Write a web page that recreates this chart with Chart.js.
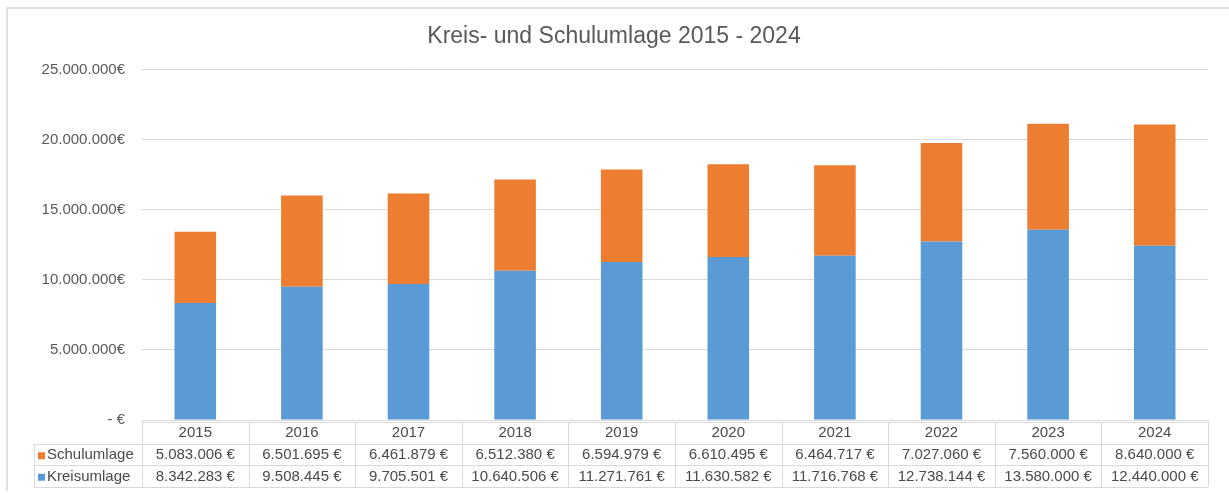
<!DOCTYPE html>
<html>
<head>
<meta charset="utf-8">
<script src="https://cdn.jsdelivr.net/npm/chart.js@4/dist/chart.umd.min.js"></script>
<style>
    html, body { margin: 0; padding: 0; background: #fff; }
    #wrap { width: 1229px; height: 493px; }
</style>
</head>
<body>
<div id="wrap"><canvas id="umlageChart" width="1229" height="493"></canvas></div>
<script>
const years = ['2015', '2016', '2017', '2018', '2019', '2020', '2021', '2022', '2023', '2024'];
const kreisumlage = [8342283, 9508445, 9705501, 10640506, 11271761, 11630582, 11716768, 12738144, 13580000, 12440000];
const schulumlage = [5083006, 6501695, 6461879, 6512380, 6594979, 6610495, 6464717, 7027060, 7560000, 8640000];
const yTicks = [0, 5000000, 10000000, 15000000, 20000000, 25000000];

const blue = '#5B9BD5';
const orange = '#ED7D31';
const textColor = '#595959';
const lineColor = '#d9d9d9';
const fontFamily = '"Liberation Sans", Arial, sans-serif';

function euro(v) {
    return v.toLocaleString('de-DE') + '\u00a0€';
}

// white background and the thin frame around the chart
const framePlugin = {
    id: 'frame',
    beforeDraw(chart) {
        const ctx = chart.ctx;
        ctx.save();
        ctx.fillStyle = '#fff';
        ctx.fillRect(0, 0, chart.width, chart.height);
        ctx.strokeStyle = '#e0e0e0';
        ctx.lineWidth = 2;
        ctx.beginPath();
        ctx.moveTo(7, chart.height - 2);
        ctx.lineTo(7, 8);
        ctx.lineTo(chart.width, 8);
        ctx.stroke();
        ctx.restore();
    }
};

// data table under the x axis
const tablePlugin = {
    id: 'dataTable',
    afterDraw(chart) {
        const ctx = chart.ctx;
        const x = chart.scales.x;
        const top = chart.chartArea.bottom + 2;
        const rowH = 21.5;
        const left = chart.chartArea.left;
        const right = chart.chartArea.right;
        const legendLeft = 34;
        const step = (right - left) / years.length;

        ctx.save();
        ctx.strokeStyle = lineColor;
        ctx.lineWidth = 1;

        ctx.beginPath();
        ctx.moveTo(left, top + 0.5);
        ctx.lineTo(right, top + 0.5);
        for (let r = 1; r <= 3; r++) {
            const y = Math.round(top + r * rowH) + 0.5;
            ctx.moveTo(legendLeft, y);
            ctx.lineTo(right, y);
        }
        for (let i = 0; i <= years.length; i++) {
            const xx = Math.round(left + i * step) + 0.5;
            ctx.moveTo(xx, top);
            ctx.lineTo(xx, Math.round(top + 3 * rowH));
        }
        ctx.moveTo(legendLeft + 0.5, Math.round(top + rowH));
        ctx.lineTo(legendLeft + 0.5, Math.round(top + 3 * rowH));
        ctx.stroke();

        ctx.font = '15px ' + fontFamily;
        ctx.textBaseline = 'middle';
        const rows = [
            { label: 'Schulumlage', color: orange, values: schulumlage },
            { label: 'Kreisumlage', color: blue, values: kreisumlage }
        ];
        rows.forEach((row, r) => {
            const cy = top + (r + 1.5) * rowH + 1;
            ctx.fillStyle = '#4a4a4a';
            ctx.textAlign = 'center';
            row.values.forEach((v, i) => {
                ctx.fillText(euro(v), x.getPixelForValue(i), cy);
            });
            ctx.fillStyle = row.color;
            ctx.fillRect(legendLeft + 4, cy - 3, 7, 7);
            ctx.fillStyle = '#4a4a4a';
            ctx.textAlign = 'left';
            ctx.fillText(row.label, legendLeft + 13, cy);
        });
        ctx.restore();
    }
};

const ctx = document.getElementById('umlageChart').getContext('2d');
new Chart(ctx, {
    type: 'bar',
    data: {
        labels: years,
        datasets: [
            {
                label: 'Kreisumlage',
                data: kreisumlage,
                backgroundColor: blue,
                barPercentage: 0.39,
                categoryPercentage: 1
            },
            {
                label: 'Schulumlage',
                data: schulumlage,
                backgroundColor: orange,
                barPercentage: 0.39,
                categoryPercentage: 1
            }
        ]
    },
    options: {
        responsive: false,
        animation: false,
        layout: {
            padding: { left: 20, right: 21, top: 0, bottom: 6 }
        },
        plugins: {
            legend: { display: false },
            tooltip: { enabled: false },
            title: {
                display: true,
                text: 'Kreis- und Schulumlage 2015 - 2024',
                color: textColor,
                font: { family: fontFamily, size: 23, weight: 'normal' },
                padding: { top: 23, bottom: 19 }
            }
        },
        scales: {
            x: {
                stacked: true,
                grid: { display: false, drawTicks: false },
                border: { display: true, color: lineColor },
                ticks: {
                    color: '#4a4a4a',
                    padding: 4,
                    font: { family: fontFamily, size: 15 }
                },
                afterFit(scale) { scale.height = 67; }
            },
            y: {
                stacked: true,
                min: 0,
                max: 25000000,
                afterBuildTicks(scale) {
                    scale.ticks = yTicks.map(v => ({ value: v }));
                },
                afterFit(scale) { scale.width = 122; },
                grid: { color: lineColor, drawTicks: false },
                border: { display: false },
                ticks: {
                    color: textColor,
                    padding: 17,
                    font: { family: fontFamily, size: 15 },
                    callback(v) {
                        return v === 0 ? '- €' : v.toLocaleString('de-DE') + '€';
                    }
                }
            }
        }
    },
    plugins: [framePlugin, tablePlugin]
});
</script>
</body>
</html>
